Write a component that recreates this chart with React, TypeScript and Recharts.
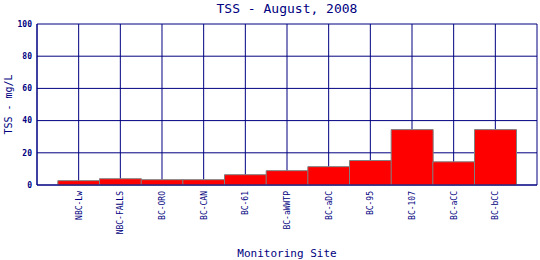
import { BarChart, Bar, XAxis, YAxis, CartesianGrid } from 'recharts';

const SITES = ['NBC-Lw', 'NBC-FALLS', 'BC-ORO', 'BC-CAN', 'BC-61', 'BC-aWWTP', 'BC-aDC', 'BC-95', 'BC-107', 'BC-aCC', 'BC-bCC'];
const TSS = [2.7, 3.9, 3.3, 3.3, 6.4, 8.9, 11.4, 15.2, 34.4, 14.4, 34.4];
const Y_TICKS = [0, 20, 40, 60, 80, 100];

const NAVY = '#000080';
const FONT = '"DejaVu Sans Mono", "Liberation Mono", monospace';

const data = SITES.map((site, i) => ({ site, tss: TSS[i] }));

function SiteTick(props: any) {
  const { x, y, payload } = props;
  return (
    <text
      x={x + 3}
      y={y}
      transform={`rotate(-90, ${x + 3}, ${y})`}
      textAnchor="end"
      fill={NAVY}
      fontFamily={FONT}
      fontSize={8}
    >
      {payload.value}
    </text>
  );
}

export default function App() {
  return (
    <div style={{ position: 'absolute', left: 0, top: 0, width: 540, height: 260, background: '#fff' }}>
      <div
        style={{
          position: 'absolute',
          left: 37,
          width: 500,
          top: 0,
          textAlign: 'center',
          fontFamily: FONT,
          fontSize: 13,
          color: NAVY,
          lineHeight: '17px',
        }}
      >
        TSS - August, 2008
      </div>
      <BarChart
        width={540}
        height={260}
        data={data}
        margin={{ top: 24, right: 3, left: 0, bottom: 0 }}
        barCategoryGap={0}
        barGap={0}
      >
        <CartesianGrid stroke={NAVY} strokeWidth={1} />
        <XAxis
          type="category"
          dataKey="site"
          interval={0}
          height={75}
          padding={{ left: 20.83, right: 20.83 }}
          tickLine={false}
          tickSize={4}
          axisLine={{ stroke: NAVY }}
          tick={<SiteTick />}
          label={{ value: 'Monitoring Site', position: 'insideBottom', offset: 3, fill: NAVY, fontFamily: FONT, fontSize: 11 }}
        />
        <YAxis
          type="number"
          domain={[0, 100]}
          ticks={Y_TICKS}
          width={37}
          tickLine={false}
          tickSize={3}
          tickMargin={2}
          axisLine={{ stroke: NAVY }}
          tick={{ fill: NAVY, fontFamily: FONT, fontSize: 8, fontWeight: 'bold' }}
          label={{ value: 'TSS - mg/L', angle: -90, position: 'insideLeft', offset: 8, fill: NAVY, fontFamily: FONT, fontSize: 10, style: { textAnchor: 'middle' } }}
        />
        <YAxis
          yAxisId="frame"
          orientation="right"
          type="number"
          domain={[0, 100]}
          width={0}
          tick={false}
          tickLine={false}
          axisLine={{ stroke: NAVY }}
        />
        <Bar dataKey="tss" fill="#ff0000" stroke="#808080" strokeWidth={1} isAnimationActive={false} />
      </BarChart>
    </div>
  );
}
